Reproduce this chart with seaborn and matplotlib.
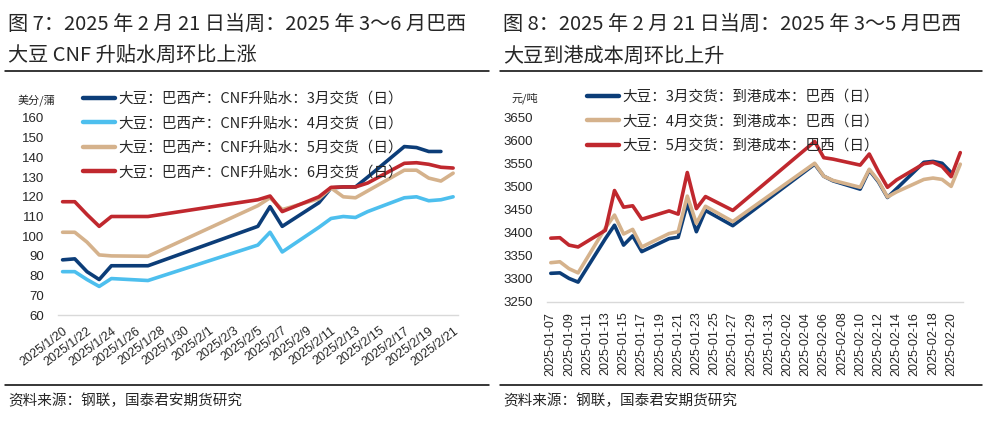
"""
Two weekly charts: Brazil soybean CNF premium and landed cost by delivery month
"""
import numpy as np
import pandas as pd
import seaborn as sns
import matplotlib.pyplot as plt
from matplotlib.lines import Line2D

# ---- left chart: CNF premium (US cents / bushel)
left_dates = ["2025-01-20", "2025-01-21", "2025-01-22", "2025-01-23", "2025-01-24",
              "2025-01-27", "2025-02-05", "2025-02-06", "2025-02-07", "2025-02-10",
              "2025-02-11", "2025-02-12", "2025-02-13", "2025-02-14", "2025-02-17",
              "2025-02-18", "2025-02-19", "2025-02-20", "2025-02-21"]
cnf_mar = [88, 88.5, 82, 78, 85, 85, 105, 115, 105, 117, 124.5, 125, 125, 130,
           145.5, 145, 143, 143, np.nan]
cnf_apr = [82, 82, 78, 74.5, 78.5, 77.5, 95.5, 102, 92, 104.5, 109, 110, 109.5,
           112.5, 119.5, 120, 118, 118.5, 120]
cnf_may = [102, 102, 97, 90.5, 90, 89.8, 115.5, 119.5, 113.5, 119, 124.5, 120,
           119.5, 123, 133.5, 133.5, 129.5, 128, 132]
cnf_jun = [117.5, 117.5, 111, 105, 110, 110, 118.5, 120.4, 112.5, 120, 124.8, 125,
           125, 127, 137, 137.3, 136.5, 135, 134.6]
left_labels = ["大豆：巴西产：CNF升贴水：3月交货（日）",
               "大豆：巴西产：CNF升贴水：4月交货（日）",
               "大豆：巴西产：CNF升贴水：5月交货（日）",
               "大豆：巴西产：CNF升贴水：6月交货（日）"]
left_ticks = pd.date_range("2025-01-20", "2025-02-21", freq="2D")

# ---- right chart: landed cost (yuan / ton)
right_dates = ["2025-01-07", "2025-01-08", "2025-01-09", "2025-01-10", "2025-01-13",
               "2025-01-14", "2025-01-15", "2025-01-16", "2025-01-17", "2025-01-20",
               "2025-01-21", "2025-01-22", "2025-01-23", "2025-01-24", "2025-01-27",
               "2025-02-05", "2025-02-06", "2025-02-07", "2025-02-10", "2025-02-11",
               "2025-02-12", "2025-02-13", "2025-02-14", "2025-02-17", "2025-02-18",
               "2025-02-19", "2025-02-20", "2025-02-21"]
cost_mar = [3312, 3313, 3301, 3293, 3387, 3416, 3373, 3393, 3359, 3387, 3390, 3463,
            3402, 3448, 3415, 3548, 3522, 3512, 3494, 3535, 3510, 3476, 3495, 3552,
            3554, 3550, 3530, np.nan]
cost_apr = [3335, 3337, 3322, 3313, 3410, 3438, 3397, 3407, 3369, 3398, 3402, 3479,
            3420, 3457, 3424, 3550, 3522, 3513, 3498, 3537, 3512, 3477, 3488, 3515,
            3518, 3515, 3500, 3548]
cost_may = [3388, 3389, 3373, 3369, 3405, 3491, 3455, 3458, 3429, 3447, 3440, 3530,
            3452, 3478, 3448, 3597, 3562, 3559, 3546, 3570, 3532, 3498, 3514, 3549,
            3552, 3543, 3521, 3573]
right_labels = ["大豆：3月交货：到港成本：巴西（日）",
                "大豆：4月交货：到港成本：巴西（日）",
                "大豆：5月交货：到港成本：巴西（日）"]
right_ticks = pd.date_range("2025-01-07", "2025-02-20", freq="2D")

NAVY, SKY, TAN, RED = "#0c3d78", "#4dbfee", "#d5b28c", "#c0282e"

sns.set_style("white")
plt.rcParams["font.family"] = ["Noto Sans CJK SC", "DejaVu Sans"]
plt.rcParams["axes.unicode_minus"] = False
NUM = "Liberation Sans"

left_df = pd.DataFrame({"date": pd.to_datetime(left_dates)})
for lab, vals in zip(left_labels, [cnf_mar, cnf_apr, cnf_may, cnf_jun]):
    left_df[lab] = vals
left_long = left_df.melt(id_vars="date", var_name="series", value_name="value").dropna()

right_df = pd.DataFrame({"date": pd.to_datetime(right_dates)})
for lab, vals in zip(right_labels, [cost_mar, cost_apr, cost_may]):
    right_df[lab] = vals
right_long = right_df.melt(id_vars="date", var_name="series", value_name="value").dropna()

fig = plt.figure(figsize=(9.88, 4.26), dpi=100)
W, H = 988, 426


def px_axes(x0, y0, x1, y1):
    return fig.add_axes([x0 / W, 1 - y1 / H, (x1 - x0) / W, (y1 - y0) / H])


axL = px_axes(58, 118, 458, 315)
axR = px_axes(547, 117, 963, 302)

left_pal = dict(zip(left_labels, [NAVY, SKY, TAN, RED]))
right_pal = dict(zip(right_labels, [NAVY, TAN, RED]))

sns.lineplot(data=left_long, x="date", y="value", hue="series", hue_order=left_labels,
             palette=left_pal, linewidth=2.6, legend=False, ax=axL)
sns.lineplot(data=right_long, x="date", y="value", hue="series", hue_order=right_labels,
             palette=right_pal, linewidth=2.6, legend=False, ax=axR)


def style_axis(ax, ticks, labels, rot, ha):
    ax.set_xlabel("")
    ax.set_ylabel("")
    for s in ["top", "right", "left"]:
        ax.spines[s].set_visible(False)
    ax.spines["bottom"].set_color("#d9d9d9")
    ax.spines["bottom"].set_linewidth(1)
    ax.set_xticks(ticks)
    ax.set_xticklabels(labels, rotation=rot, ha=ha, rotation_mode="anchor",
                       fontsize=9, family=NUM)
    ax.tick_params(axis="x", direction="out", length=4, width=0.8, color="#c8c8c8", pad=3)
    ax.tick_params(axis="y", length=0, pad=10)
    for t in ax.get_yticklabels():
        t.set_fontfamily(NUM)
        t.set_fontsize(9.5)


# left axis
axL.set_ylim(60, 160)
axL.set_yticks(range(60, 161, 10))
axL.set_xlim(pd.Timestamp("2025-01-20") - pd.Timedelta(hours=9),
             pd.Timestamp("2025-01-20") + pd.Timedelta(days=32.4))
style_axis(axL, left_ticks, [f"{d.year}/{d.month}/{d.day}" for d in left_ticks], 37, "right")

# right axis
axR.set_ylim(3250, 3650)
axR.set_yticks(range(3250, 3651, 50))
axR.set_xlim(pd.Timestamp("2025-01-07") - pd.Timedelta(hours=10),
             pd.Timestamp("2025-01-07") + pd.Timedelta(days=45.3))
style_axis(axR, right_ticks, [d.strftime("%Y-%m-%d") for d in right_ticks], 90, "right")
for t in axR.get_xticklabels():
    t.set_va("center")

# legends
for ax, labels, pal, x0, y0 in [(axL, left_labels, left_pal, 83, 92),
                                (axR, right_labels, right_pal, 587, 90)]:
    handles = [Line2D([], [], color=pal[l], lw=3.2) for l in labels]
    ax.legend(handles, labels, loc="upper left", bbox_to_anchor=(x0 / W, 1 - y0 / H),
              bbox_transform=fig.transFigure, frameon=False, fontsize=10.5,
              handlelength=2.2, handletextpad=0.25, labelspacing=0.72,
              borderpad=0, borderaxespad=0)

# unit labels
fig.text(18 / W, 1 - 100 / H, "美分/蒲", fontsize=8, va="center")
fig.text(511 / W, 1 - 98 / H, "元/吨", fontsize=8, va="center")

# titles, rules and footers
titles = [("图 7：2025 年 2 月 21 日当周：2025 年 3～6 月巴西", "大豆 CNF 升贴水周环比上涨", 8),
          ("图 8：2025 年 2 月 21 日当周：2025 年 3～5 月巴西", "大豆到港成本周环比上升", 503)]
for line1, line2, x in titles:
    fig.text(x / W, 1 - 24 / H, line1, fontsize=14.5, va="center")
    fig.text(x / W, 1 - 56 / H, line2, fontsize=14.5, va="center")
    fig.text(x / W, 1 - 401 / H, "资料来源：钢联，国泰君安期货研究", fontsize=10.5, va="center")

for x0, x1 in [(5, 489), (500, 982)]:
    for y in (71, 385):
        fig.add_artist(Line2D([x0 / W, x1 / W], [1 - y / H, 1 - y / H],
                              color="black", lw=1.1, transform=fig.transFigure))

fig.savefig("out.png", dpi=100)
